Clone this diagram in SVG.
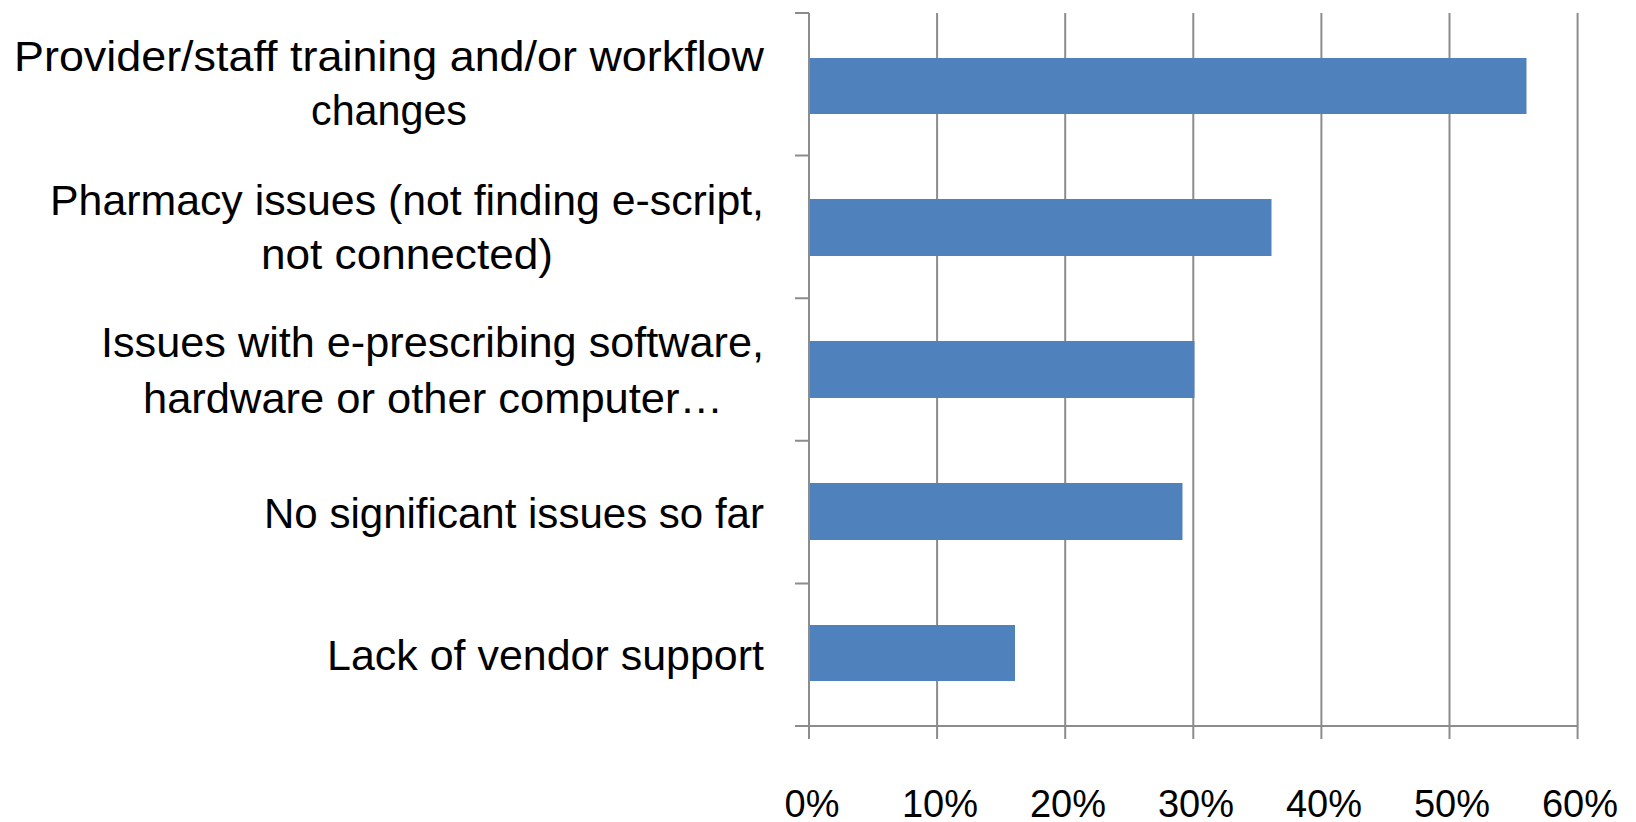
<svg xmlns="http://www.w3.org/2000/svg" width="1636" height="822" viewBox="0 0 1636 822">
  <style>
    .grid { stroke: #8c8c8c; stroke-width: 2; fill: none; }
    .bar { fill: #4f81bd; }
    .lbl { font-family: "Liberation Sans", Arial, sans-serif; font-size: 42px; fill: #000; text-anchor: middle; }
    .tick { font-family: "Liberation Sans", Arial, sans-serif; font-size: 38px; fill: #000; text-anchor: middle; }
  </style>
  <rect x="0" y="0" width="1636" height="822" fill="#ffffff"/>
  <g id="axes">
    <path class="grid" d="M937.1 13V739 M1065.2 13V739 M1193.3 13V739 M1321.4 13V739 M1449.5 13V739 M1577.6 13V739"/>
    <path class="grid" d="M795 726H1577.6"/>
    <path class="grid" d="M809 13V739"/>
    <path class="grid" d="M795 13H809 M795 155.6H809 M795 298.2H809 M795 440.8H809 M795 583.4H809"/>
  </g>
  <g id="axis-labels">
    <text class="tick" x="812" y="817">0%</text>
    <text class="tick" x="940" y="817">10%</text>
    <text class="tick" x="1068" y="817">20%</text>
    <text class="tick" x="1196" y="817">30%</text>
    <text class="tick" x="1324" y="817">40%</text>
    <text class="tick" x="1452" y="817">50%</text>
    <text class="tick" x="1580" y="817">60%</text>
  </g>
  <g id="cat-training">
    <rect class="bar" x="810" y="58" width="716.5" height="56"/>
    <text class="lbl" x="389" y="71" textLength="750" lengthAdjust="spacingAndGlyphs">Provider/staff training and/or workflow</text>
    <text class="lbl" x="389" y="125" textLength="156" lengthAdjust="spacingAndGlyphs">changes</text>
  </g>
  <g id="cat-pharmacy">
    <rect class="bar" x="810" y="199" width="461.5" height="57"/>
    <text class="lbl" x="407" y="215" textLength="714" lengthAdjust="spacingAndGlyphs">Pharmacy issues (not finding e-script,</text>
    <text class="lbl" x="407" y="269" textLength="292" lengthAdjust="spacingAndGlyphs">not connected)</text>
  </g>
  <g id="cat-software">
    <rect class="bar" x="810" y="341" width="384.5" height="57"/>
    <text class="lbl" x="432.5" y="357" textLength="663" lengthAdjust="spacingAndGlyphs">Issues with e-prescribing software,</text>
    <text class="lbl" x="433" y="413" textLength="580" lengthAdjust="spacingAndGlyphs">hardware or other computer…</text>
  </g>
  <g id="cat-none">
    <rect class="bar" x="810" y="483" width="372.5" height="57"/>
    <text class="lbl" x="514" y="528" textLength="500" lengthAdjust="spacingAndGlyphs">No significant issues so far</text>
  </g>
  <g id="cat-vendor">
    <rect class="bar" x="810" y="625" width="205" height="56"/>
    <text class="lbl" x="545.5" y="670" textLength="437" lengthAdjust="spacingAndGlyphs">Lack of vendor support</text>
  </g>
  <g id="connectors"/>
</svg>
